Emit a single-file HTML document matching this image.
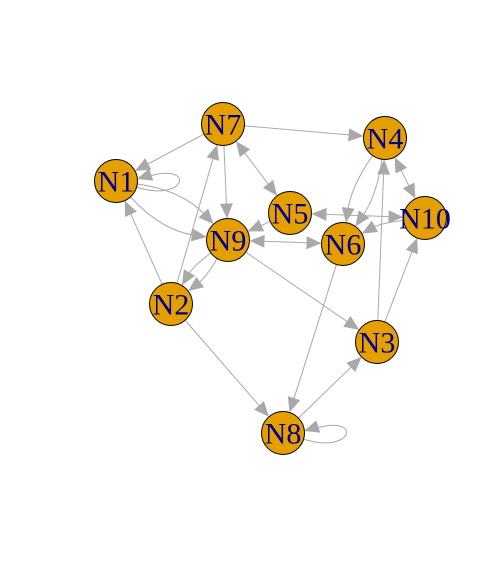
<!DOCTYPE html>
<html><head><meta charset="utf-8"><style>
html,body{margin:0;padding:0;background:#fff;width:503px;height:578px;overflow:hidden}
svg{display:block}
text{font-family:"Liberation Serif",serif;font-size:30px;fill:#00008B;text-anchor:middle;dominant-baseline:central}
</style></head><body>
<svg id="g" width="503" height="578" viewBox="0 0 503 578" xmlns="http://www.w3.org/2000/svg"></svg>
<script>
const N={N1:[116,181],N2:[171,304],N3:[377,342],N4:[385,138],N5:[290,213],N6:[343,244],N7:[223,124],N8:[283,433],N9:[228,240],N10:[425,218]};
const R=21.5,C="#A9A9A9";
let s="";
function head(tx,ty,dx,dy){const L=15,W=6.5;let bx=tx-dx*L,by=ty-dy*L;
s+=`<polygon points="${tx},${ty} ${bx-dy*W},${by+dx*W} ${bx+dy*W},${by-dx*W}" fill="${C}"/>`;}
const E=[["N7","N1",0,0,1],["N1","N9",0.18,0,1],["N1","N9",-0.18,0,1],["N2","N1",0,0,1],["N2","N7",0,0,1],["N7","N9",0,0,1],["N7","N5",0,1,1],
["N9","N2",0.1,0,1],["N9","N2",-0.1,0,1],["N5","N9",0,0,1],["N6","N9",0,1,1],["N7","N4",0,0,1],["N4","N10",0,1,1],["N4","N6",0.12,0,1],["N4","N6",-0.12,0,1],
["N5","N10",0,1,1],["N10","N6",0.1,0,1],["N3","N4",0,0,1],["N3","N10",0,0,1],["N9","N3",0,0,1],["N6","N8",0,0,1],["N8","N3",0,0,1],["N2","N8",0,0,1]];
for(const [a,b,c,af,at] of E){const[x1,y1]=N[a],[x2,y2]=N[b];let dx=x2-x1,dy=y2-y1;
let mx=(x1+x2)/2-dy*c,my=(y1+y2)/2+dx*c;
let sdx=mx-x1,sdy=my-y1,sd=Math.hypot(sdx,sdy);sdx/=sd;sdy/=sd;
let edx=x2-mx,edy=y2-my,ed=Math.hypot(edx,edy);edx/=ed;edy/=ed;
let sx=x1+sdx*R,sy=y1+sdy*R,ex=x2-edx*R,ey=y2-edy*R;
let ssx=af?sx+sdx*12:sx,ssy=af?sy+sdy*12:sy,eex=at?ex-edx*12:ex,eey=at?ey-edy*12:ey;
s+=`<path d="M${ssx},${ssy} Q${mx},${my} ${eex},${eey}" fill="none" stroke="${C}" stroke-width="1"/>`;
if(at)head(ex,ey,edx,edy);if(af)head(sx,sy,-sdx,-sdy);}
function loop(n){const[x,y]=N[n];
s+=`<path d="M${x+20},${y+6} C${x+70},${y+22} ${x+80},${y-18} ${x+34},${y-5}" fill="none" stroke="${C}" stroke-width="1"/>`;
head(x+21,y-2,-0.95,0.3);}
loop("N1");loop("N8");
for(const k in N){const[x,y]=N[k];s+=`<circle cx="${x}" cy="${y}" r="${R}" fill="#E69F00" stroke="#000" stroke-width="1"/><text x="${x}" y="${y+1}">${k}</text>`;}
document.getElementById("g").innerHTML=s;
</script>
</body></html>
